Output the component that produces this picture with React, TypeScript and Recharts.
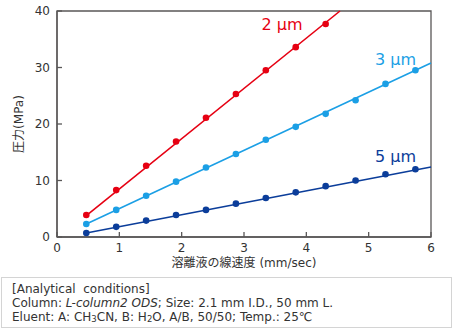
import {
  ComposedChart,
  Line,
  Scatter,
  XAxis,
  YAxis,
  ReferenceArea,
  ReferenceDot,
} from "recharts";

// linear velocity (mm/sec) of the measured points
const velocity = [0.47, 0.95, 1.43, 1.91, 2.39, 2.87, 3.35, 3.83, 4.31, 4.79, 5.27, 5.75];

// pressure (MPa) per particle size
const p2um = [3.9, 8.3, 12.6, 16.9, 21.1, 25.3, 29.5, 33.6, 37.7];
const p3um = [2.3, 4.8, 7.3, 9.8, 12.3, 14.7, 17.2, 19.5, 21.8, 24.2, 27.1, 29.5];
const p5um = [0.7, 1.8, 2.9, 3.9, 4.8, 5.9, 6.9, 7.9, 9.0, 10.0, 11.1, 12.0];

// fitted lines: [start, end] as [x, y]
const fit2um = [[0.47, 3.8], [4.54, 40]];
const fit3um = [[0.47, 2.3], [6, 30.8]];
const fit5um = [[0.47, 0.7], [6, 12.4]];

const xTicks = [0, 1, 2, 3, 4, 5, 6];
const yTicks = [0, 10, 20, 30, 40];

const RED = "#e60012";
const SKY = "#1b9fe5";
const NAVY = "#0b3d9a";
const AXIS = "#595757";
const FONT = "'DejaVu Sans', 'Noto Sans CJK JP', sans-serif";

const toPts = (ys: number[]) => ys.map((y, i) => ({ x: velocity[i], y }));
const toLine = (pts: number[][]) => pts.map(([x, y]) => ({ x, y }));

const dot = (color: string) => (p: any) => (
  <circle cx={p.cx} cy={p.cy} r={3.3} fill={color} />
);

const tick = { fill: "#333", fontSize: 12, fontFamily: FONT };
const sub = { fontSize: 8.5, verticalAlign: "-1px", lineHeight: 0 };

export default function App() {
  return (
    <div style={{ position: "absolute", left: 0, top: 0, width: 454, height: 330, background: "#fff", fontFamily: FONT }}>
      <ComposedChart width={454} height={270} margin={{ top: 11, right: 23, left: 0, bottom: 0 }}>
        <ReferenceArea x1={0} x2={6} y1={0} y2={40} fill="none" stroke={AXIS} strokeWidth={1.3} />
        <XAxis
          type="number"
          dataKey="x"
          domain={[0, 6]}
          ticks={xTicks}
          height={33}
          tick={tick}
          tickSize={-5}
          tickMargin={11}
          stroke={AXIS}
          strokeWidth={1.3}
          label={{ value: "溶離液の線速度 (mm/sec)", position: "insideBottom", offset: 3, fill: "#333", fontSize: 12, fontFamily: FONT }}
        />
        <YAxis
          type="number"
          dataKey="y"
          domain={[0, 40]}
          ticks={yTicks}
          width={57}
          tick={tick}
          tickSize={-5}
          tickMargin={12}
          stroke={AXIS}
          strokeWidth={1.3}
          label={{ value: "圧力(MPa)", angle: -90, position: "insideLeft", offset: 19, fill: "#333", fontSize: 12, fontFamily: FONT, style: { textAnchor: "middle" } }}
        />
        <Line data={toLine(fit2um)} dataKey="y" stroke={RED} strokeWidth={1.6} dot={false} isAnimationActive={false} />
        <Line data={toLine(fit3um)} dataKey="y" stroke={SKY} strokeWidth={1.6} dot={false} isAnimationActive={false} />
        <Line data={toLine(fit5um)} dataKey="y" stroke={NAVY} strokeWidth={1.6} dot={false} isAnimationActive={false} />
        <Scatter data={toPts(p2um)} shape={dot(RED)} isAnimationActive={false} />
        <Scatter data={toPts(p3um)} shape={dot(SKY)} isAnimationActive={false} />
        <Scatter data={toPts(p5um)} shape={dot(NAVY)} isAnimationActive={false} />
        <ReferenceDot x={3.61} y={37.6} r={0} label={{ value: "2 µm", position: "center", fill: RED, fontSize: 16, fontFamily: FONT }} />
        <ReferenceDot x={5.43} y={31.4} r={0} label={{ value: "3 µm", position: "center", fill: SKY, fontSize: 16, fontFamily: FONT }} />
        <ReferenceDot x={5.43} y={14.3} r={0} label={{ value: "5 µm", position: "center", fill: NAVY, fontSize: 16, fontFamily: FONT }} />
      </ComposedChart>
      <div
        style={{
          position: "absolute",
          left: 1,
          top: 277,
          width: 439,
          height: 49,
          border: "1.5px solid #d4d4d4",
          padding: "0 0 0 10px",
          fontSize: 12,
          lineHeight: "14px",
          color: "#333",
          whiteSpace: "pre",
        }}
      >
        <div style={{ marginTop: 4 }}>[Analytical  conditions]</div>
        <div>
          Column: <i>L-column2 ODS</i>; Size: 2.1 mm I.D., 50 mm L.
        </div>
        <div>
          Eluent: A: CH<sub style={sub}>3</sub>CN, B: H<sub style={sub}>2</sub>O, A/B, 50/50; Temp.: 25℃
        </div>
      </div>
    </div>
  );
}
